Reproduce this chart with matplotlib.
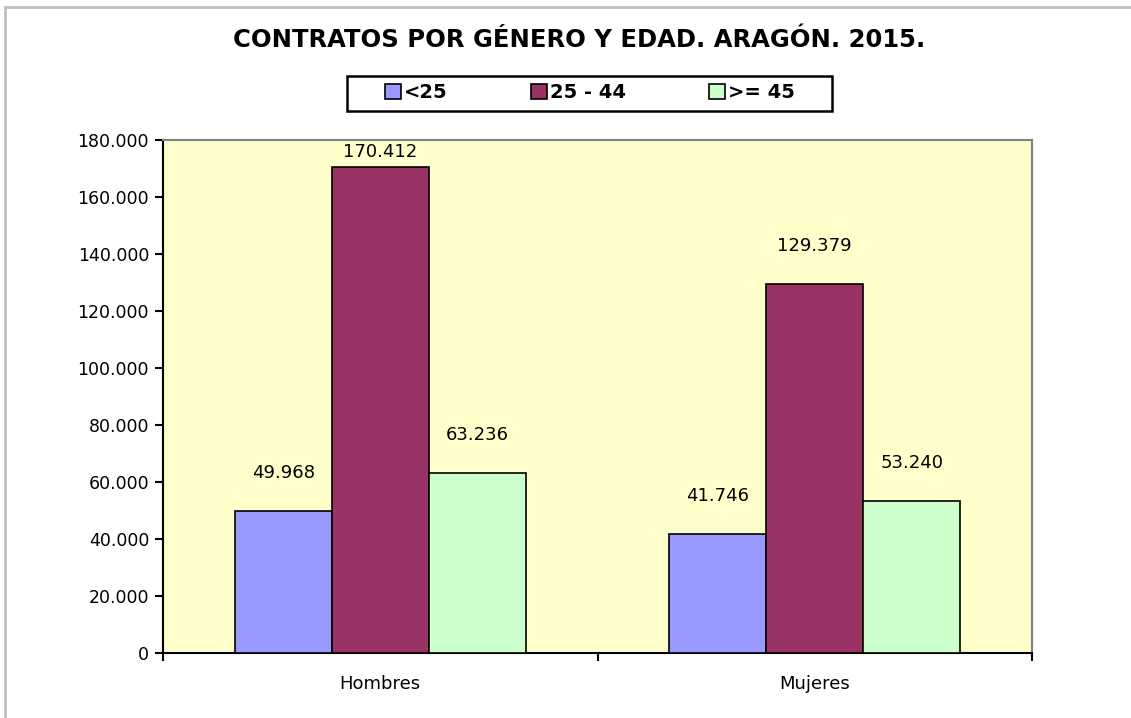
import matplotlib
matplotlib.use("Agg")
import matplotlib.pyplot as plt
import numpy as np
from matplotlib.lines import Line2D
from matplotlib.patches import Rectangle
from matplotlib.ticker import FuncFormatter

# datos
generos = ["Hombres", "Mujeres"]
grupos = ["<25", "25 - 44", ">= 45"]
menores_25 = [49968, 41746]
de_25_a_44 = [170412, 129379]
mayores_45 = [63236, 53240]
colores = ["#9999FF", "#993366", "#CCFFCC"]

plt.rcParams["font.family"] = ["DejaVu Sans"]

W, H = 1131, 718
fig = plt.figure(figsize=(W / 100, H / 100), dpi=100)
ax = fig.add_axes([163 / W, 1 - 653 / H, (1032 - 163) / W, (653 - 140) / H])
ax.set_facecolor("#FFFFCC")

x = np.arange(len(generos))
ancho = 0.223
series = [menores_25, de_25_a_44, mayores_45]
ymax = 180000
off = 13300
for i, (vals, nombre, col) in enumerate(zip(series, grupos, colores)):
    pos = x + (i - 1) * ancho
    ax.bar(pos, vals, width=ancho, color=col, edgecolor="black", linewidth=1.2,
           label=nombre, zorder=3)
    for px, v in zip(pos, vals):
        ty = min(v + off, ymax - 4300)
        ax.text(px, ty, f"{v:,}".replace(",", "."), ha="center", va="center",
                fontsize=13, color="black", zorder=4)

ax.set_xlim(-0.5, 1.5)
ax.set_ylim(0, ymax)
ax.set_yticks(np.arange(0, ymax + 1, 20000))
ax.yaxis.set_major_formatter(FuncFormatter(lambda v, p: f"{int(v):,}".replace(",", ".")))
ax.set_xticks([-0.5, 0.5, 1.5])
ax.set_xticklabels([])
ax.set_xticks(x, minor=True)
ax.set_xticklabels(generos, minor=True)
ax.tick_params(axis="x", which="minor", length=0, pad=16, labelsize=13)
ax.tick_params(axis="x", which="major", length=6, width=1.5, direction="out")
ax.tick_params(axis="y", length=6, width=1.5, direction="out", labelsize=12.5, pad=4)

for s in ["left", "bottom"]:
    ax.spines[s].set_color("black")
    ax.spines[s].set_linewidth(1.5)
for s in ["top", "right"]:
    ax.spines[s].set_color("#808080")
    ax.spines[s].set_linewidth(1.5)

fig.text(579 / W, 1 - 40 / H, "CONTRATOS POR GÉNERO Y EDAD. ARAGÓN. 2015.",
         ha="center", va="center", fontsize=17.5, fontweight="bold")

# leyenda sin marco propio; el recuadro se dibuja aparte
leg = fig.legend(loc="center", bbox_to_anchor=(590 / W, 1 - 93 / H), ncol=3,
                 frameon=False, handlelength=0.8, handleheight=0.8,
                 handletextpad=0.15, columnspacing=4.3,
                 prop={"weight": "bold", "size": 14})
fig.add_artist(Rectangle((347 / W, 1 - 111 / H), (832 - 347) / W, 35 / H,
                         transform=fig.transFigure, fill=False,
                         edgecolor="black", linewidth=1.8))

# marco exterior gris (solo arriba e izquierda)
fig.add_artist(Line2D([5 / W, 1], [1 - 7 / H, 1 - 7 / H], color="#C0C0C0", lw=2))
fig.add_artist(Line2D([5 / W, 5 / W], [0, 1 - 7 / H], color="#C0C0C0", lw=2))

fig.savefig("out.png", dpi=100)
